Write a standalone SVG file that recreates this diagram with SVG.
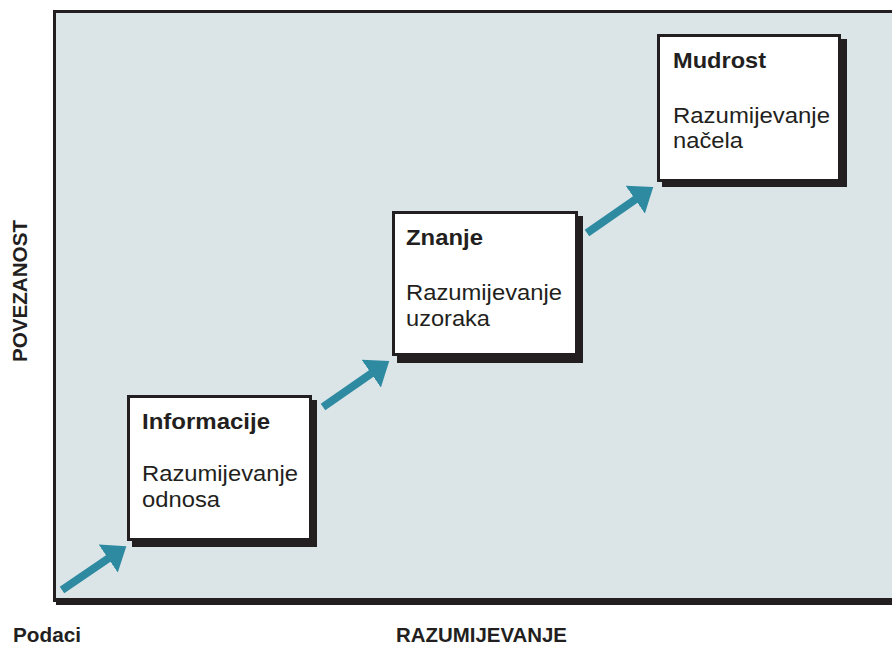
<svg xmlns="http://www.w3.org/2000/svg" width="892" height="647" viewBox="0 0 892 647">
<defs>
<style>
.frame{fill:#dbe5e8;}
.ink{fill:#231f20;}
.box{fill:#ffffff;stroke:#231f20;stroke-width:3;}
.shadow{fill:#231f20;}
.title{font-family:"Liberation Sans",Arial,sans-serif;font-weight:bold;font-size:22px;fill:#231f20;}
.body{font-family:"Liberation Sans",Arial,sans-serif;font-size:22px;fill:#231f20;}
.axis{font-family:"Liberation Sans",Arial,sans-serif;font-weight:bold;font-size:20.5px;fill:#231f20;}
.arrow{stroke:#2e8aa0;stroke-width:8;fill:none;marker-end:url(#head);}
</style>
<marker id="head" markerUnits="userSpaceOnUse" viewBox="0 -17 22 34" refX="1" refY="0" markerWidth="22" markerHeight="34" orient="auto">
<path d="M0,-17 L22,0 L0,17 z" fill="#2e8aa0"/>
</marker>
</defs>
<rect width="892" height="647" fill="#ffffff"/>
<g id="frame">
<rect class="frame" x="55" y="12" width="840" height="588"/>
<rect class="ink" x="53" y="10" width="840" height="3"/>
<rect class="ink" x="53" y="10" width="3" height="592"/>
<rect class="ink" x="56" y="598" width="840" height="7"/>
</g>
<g id="connectors">
<line class="arrow" x1="62" y1="590" x2="109" y2="558"/>
<line class="arrow" x1="323" y1="407" x2="372" y2="373"/>
<line class="arrow" x1="587" y1="233" x2="636" y2="199"/>
</g>
<g id="informacije">
<rect class="shadow" x="132" y="400" width="185" height="147"/>
<rect class="box" x="128.5" y="396.5" width="182" height="143"/>
<text class="title" x="142" y="429" textLength="128" lengthAdjust="spacingAndGlyphs">Informacije</text>
<text class="body" x="142" y="481" textLength="156" lengthAdjust="spacingAndGlyphs">Razumijevanje</text>
<text class="body" x="142" y="507" textLength="78" lengthAdjust="spacingAndGlyphs">odnosa</text>
</g>
<g id="znanje">
<rect class="shadow" x="397" y="216" width="186" height="147"/>
<rect class="box" x="393.5" y="212.5" width="183" height="142"/>
<text class="title" x="406" y="245" textLength="77" lengthAdjust="spacingAndGlyphs">Znanje</text>
<text class="body" x="406" y="300" textLength="156" lengthAdjust="spacingAndGlyphs">Razumijevanje</text>
<text class="body" x="406" y="326" textLength="84" lengthAdjust="spacingAndGlyphs">uzoraka</text>
</g>
<g id="mudrost">
<rect class="shadow" x="662" y="39" width="185" height="148"/>
<rect class="box" x="658.5" y="35.5" width="181" height="145"/>
<text class="title" x="673" y="68" textLength="93" lengthAdjust="spacingAndGlyphs">Mudrost</text>
<text class="body" x="673" y="123" textLength="157" lengthAdjust="spacingAndGlyphs">Razumijevanje</text>
<text class="body" x="673" y="148" textLength="70" lengthAdjust="spacingAndGlyphs">načela</text>
</g>
<g id="labels">
<text class="axis" transform="translate(27,291) rotate(-90)" text-anchor="middle" textLength="142" lengthAdjust="spacingAndGlyphs">POVEZANOST</text>
<text class="axis" x="13" y="642" textLength="68" lengthAdjust="spacingAndGlyphs">Podaci</text>
<text class="axis" x="396" y="642" font-size="20" textLength="171" lengthAdjust="spacingAndGlyphs">RAZUMIJEVANJE</text>
</g>
</svg>
